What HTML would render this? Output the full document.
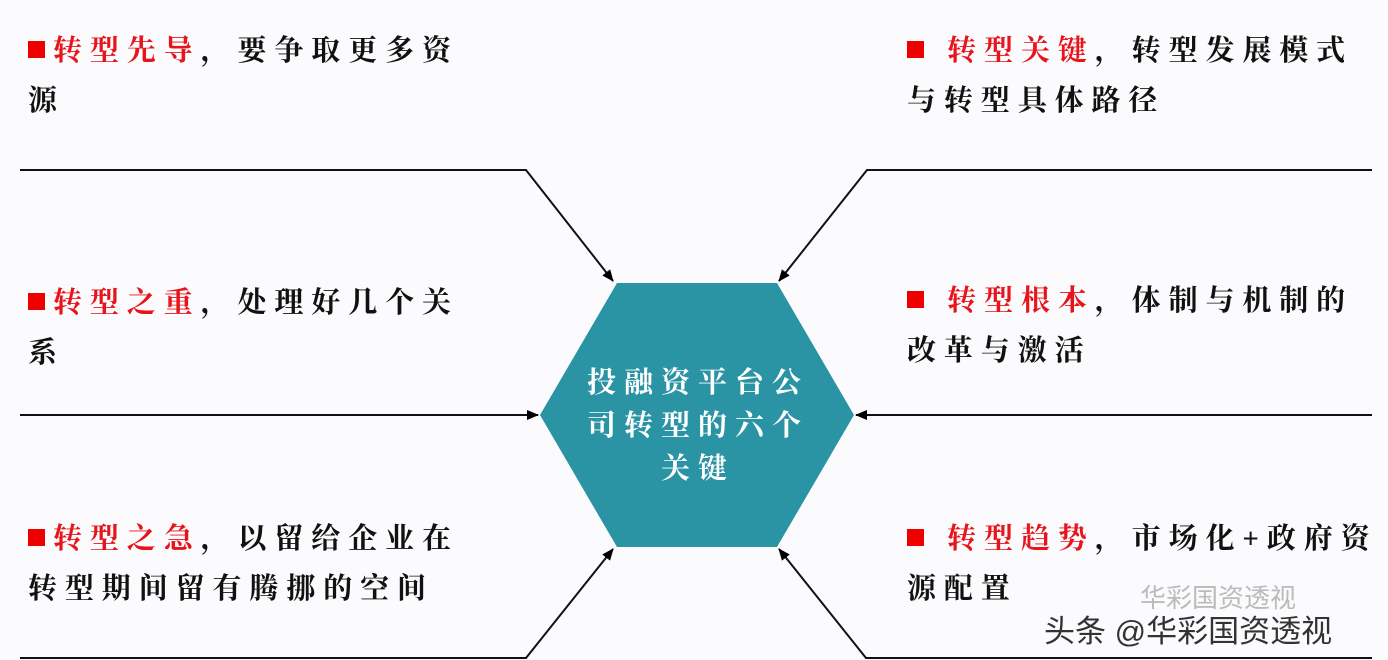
<!DOCTYPE html>
<html><head><meta charset="utf-8"><style>
body{margin:0;width:1388px;height:660px;background:#fbfbfd;overflow:hidden;position:relative;font-family:"Liberation Serif","Noto Serif CJK SC",serif;}
.t{position:absolute;font-size:29px;font-weight:700;letter-spacing:7.9px;line-height:50px;color:#111;white-space:nowrap}
.r{color:#e8141b}
.sq{display:inline-block;width:17px;height:17px;background:#ee0000;margin-right:8px;vertical-align:2px}
.c{position:absolute;left:560px;width:276px;text-align:center;color:#fff;font-size:29px;font-weight:700;letter-spacing:8px;line-height:43px;top:362px}
</style></head><body>
<svg width="1388" height="660" style="position:absolute;left:0;top:0">
<defs><marker id="a" markerWidth="12" markerHeight="10" refX="11" refY="5" orient="auto" markerUnits="userSpaceOnUse"><path d="M0,0 L12,5 L0,10 z" fill="#000"/></marker></defs>
<polygon points="617,283 777,283 854,415 777,547 617,547 540,415" fill="#2a94a4"/>
<g stroke="#111" stroke-width="2" fill="none">
<polyline points="20,170 526,170 613,281" marker-end="url(#a)"/>
<polyline points="20,415 538,415" marker-end="url(#a)"/>
<polyline points="20,658 526,658 613,549" marker-end="url(#a)"/>
<polyline points="1372,170 867,170 779,281" marker-end="url(#a)"/>
<polyline points="1372,415 856,415" marker-end="url(#a)"/>
<polyline points="1372,658 866,658 779,549" marker-end="url(#a)"/>
</g>
</svg>
<div class="t" style="left:28px;top:26px"><span class="sq"></span><span class="r">转型先导</span>，要争取更多资<br>源</div>
<div class="t" style="left:28px;top:278px"><span class="sq"></span><span class="r">转型之重</span>，处理好几个关<br>系</div>
<div class="t" style="left:28px;top:514px"><span class="sq"></span><span class="r">转型之急</span>，以留给企业在<br>转型期间留有腾挪的空间</div>
<div class="t" style="left:907px;top:26px"><span class="sq"></span> <span class="r">转型关键</span>，转型发展模式<br>与转型具体路径</div>
<div class="t" style="left:907px;top:276px"><span class="sq"></span> <span class="r">转型根本</span>，体制与机制的<br>改革与激活</div>
<div class="t" style="left:907px;top:514px"><span class="sq"></span> <span class="r">转型趋势</span>，市场化+政府资<br>源配置</div>
<div class="c">投融资平台公<br>司转型的六个<br>关键</div>
<div style="position:absolute;left:1140px;top:578px;font-size:26px;color:#bbb;font-family:'Liberation Sans','Noto Sans CJK SC',sans-serif">华彩国资透视</div>
<div style="position:absolute;left:1044px;top:606px;font-size:31px;color:#333;font-family:'Liberation Sans','Noto Sans CJK SC',sans-serif">头条 @华彩国资透视</div>
</body></html>
